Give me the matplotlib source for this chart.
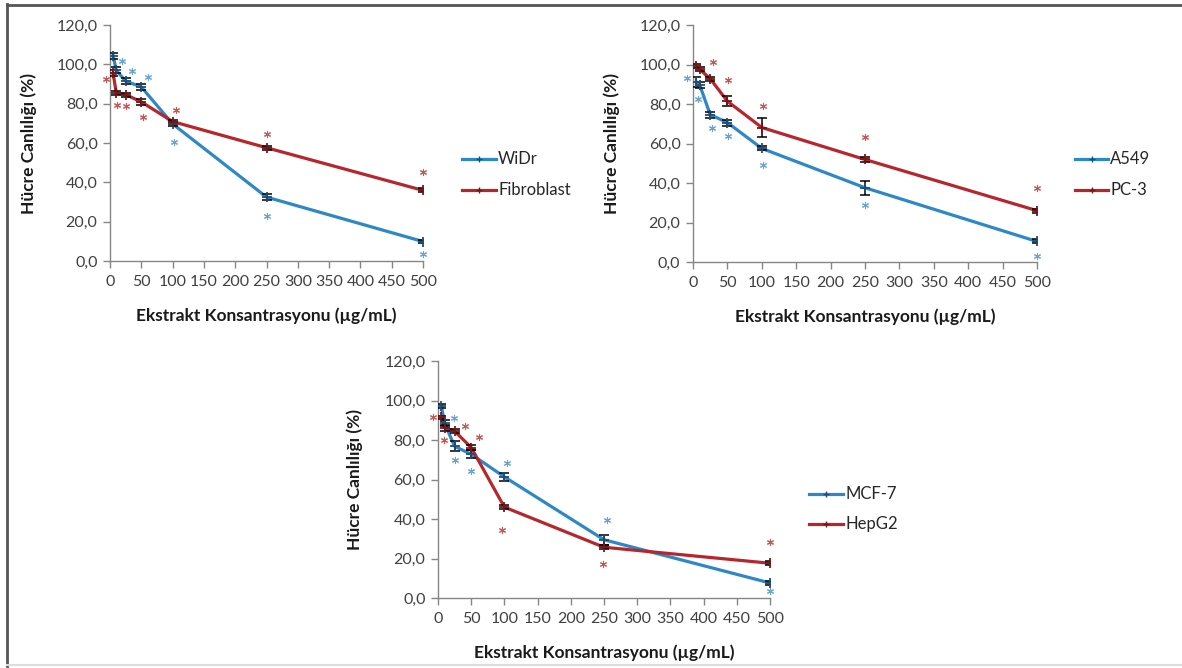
import matplotlib
matplotlib.use("Agg")
import matplotlib.pyplot as plt
from matplotlib.lines import Line2D
from matplotlib.ticker import FuncFormatter

plt.rcParams['font.family'] = ['Lato', 'DejaVu Sans']

# ---------------- data ----------------
conc = [5, 10, 25, 50, 100, 250, 500]

widr = [104.3, 96.9, 91.5, 88.5, 69.7, 32.5, 9.9]
widr_err = [1.5, 1.5, 1.5, 1.5, 1.0, 1.5, 1.0]
fibro = [95.4, 85.5, 84.6, 80.9, 70.9, 57.6, 35.9]
fibro_err = [1.5, 1.0, 1.0, 1.5, 1.0, 1.0, 1.0]

a549 = [91.2, 89.4, 74.6, 70.6, 57.5, 37.6, 10.4]
a549_err = [2.5, 1.5, 1.5, 1.5, 1.0, 3.5, 1.0]
pc3 = [99.2, 97.5, 92.8, 81.4, 68.1, 51.9, 26.0]
pc3_err = [1.0, 1.0, 1.0, 2.5, 5.0, 1.5, 1.0]

mcf7 = [97.3, 88.4, 76.8, 72.8, 61.3, 29.5, 7.6]
mcf7_err = [1.0, 1.5, 2.5, 2.0, 2.0, 2.5, 1.0]
hepg2 = [91.4, 86.3, 84.5, 76.2, 46.0, 25.7, 17.6]
hepg2_err = [1.0, 1.5, 1.0, 1.5, 1.0, 1.0, 1.0]

# significance asterisks (x, y in data units)
widr_sig_x = [19.6, 35.6, 61, 102, 251, 500]
widr_sig_y = [101.7, 96.6, 93.7, 60.3, 23.0, 3.4]
fibro_sig_x = [-7, 11, 26, 52, 105.5, 251, 500]
fibro_sig_y = [92.3, 79.5, 79.0, 73.0, 77.0, 64.4, 45.1]

a549_sig_x = [-8, 7, 27.5, 50.5, 101.6, 250, 500]
a549_sig_y = [93.0, 82.7, 68.0, 63.8, 49.0, 29.0, 3.0]
pc3_sig_x = [28.6, 50.5, 101.6, 250, 500]
pc3_sig_y = [101.3, 92.4, 79.1, 63.5, 37.4]

mcf7_sig_x = [24, 25, 50, 104, 254, 500]
mcf7_sig_y = [90.9, 70.0, 64.2, 68.6, 39.3, 3.7]
hepg2_sig_x = [-7.5, 9, 40, 61.5, 96.5, 249, 500]
hepg2_sig_y = [91.4, 80.0, 87.0, 81.6, 34.5, 17.0, 28.6]

x_ticks = [0, 50, 100, 150, 200, 250, 300, 350, 400, 450, 500]
y_ticks = [0, 20, 40, 60, 80, 100, 120]
xlabel = "Ekstrakt Konsantrasyonu (µg/mL)"
ylabel = "Hücre Canlılığı (%)"

# ---------------- style ----------------
W, H = 1182, 668
BLUE = '#2D88C5'
RED = '#B5272C'
BLUE_M = '#1F4E79'
RED_M = '#7A1518'
BLUE_S = '#6BA3D3'
RED_S = '#C45A57'
AXC = '#868686'
TXT = '#404040'

fig = plt.figure(figsize=(W / 100, H / 100), dpi=100)


def px_axes(x0, x1, y0, y1):
    # x0,x1: pixel of x=0 and x=500; y0: pixel of y=0, y1: pixel of y=120
    return fig.add_axes([x0 / W, 1 - y0 / H, (x1 - x0) / W, (y0 - y1) / H])


panels = [
    dict(box=(110, 423, 261, 25),
         series=[("WiDr", widr, widr_err, BLUE, BLUE_M, BLUE_S, widr_sig_x, widr_sig_y),
                 ("Fibroblast", fibro, fibro_err, RED, RED_M, RED_S, fibro_sig_x, fibro_sig_y)],
         leg=(462, 496, 159, 190), ylx=-0.233),
    dict(box=(693, 1037, 262, 25),
         series=[("A549", a549, a549_err, BLUE, BLUE_M, BLUE_S, a549_sig_x, a549_sig_y),
                 ("PC-3", pc3, pc3_err, RED, RED_M, RED_S, pc3_sig_x, pc3_sig_y)],
         leg=(1075, 1108, 159, 190), ylx=-0.212),
    dict(box=(438, 770, 598, 361),
         series=[("MCF-7", mcf7, mcf7_err, BLUE, BLUE_M, BLUE_S, mcf7_sig_x, mcf7_sig_y),
                 ("HepG2", hepg2, hepg2_err, RED, RED_M, RED_S, hepg2_sig_x, hepg2_sig_y)],
         leg=(809, 843, 494, 524), ylx=-0.226),
]

fmt = FuncFormatter(lambda v, p: f"{v:.1f}".replace('.', ','))

for pan in panels:
    ax = px_axes(*pan['box'])
    for name, vals, err, col, mcol, scol, sx, sy in pan['series']:
        ax.plot(conc, vals, color=col, lw=2.3, zorder=3, solid_joinstyle='round')
        ax.errorbar(conc, vals, yerr=err, fmt='none', ecolor='black',
                    elinewidth=1.1, capsize=3.5, capthick=1.1, zorder=4)
        ax.plot(conc, vals, linestyle='none', marker='+', ms=7, mew=1.3,
                color=mcol, zorder=5)
        ax.scatter(sx, sy, marker=(6, 2, 0), s=20, linewidths=0.8,
                   color=scol, zorder=6, clip_on=False)
    ax.set_xlim(0, 500)
    ax.set_ylim(0, 120)
    ax.set_xticks(x_ticks)
    ax.set_yticks(y_ticks)
    ax.yaxis.set_major_formatter(fmt)
    for s in ('top', 'right'):
        ax.spines[s].set_visible(False)
    for s in ('left', 'bottom'):
        ax.spines[s].set_color(AXC)
        ax.spines[s].set_linewidth(1.0)
    ax.tick_params(axis='both', colors=AXC, labelcolor=TXT, labelsize=11.5,
                   length=5, width=1.0, direction='out')
    ax.tick_params(axis='x', pad=5)
    ax.tick_params(axis='y', pad=4)
    ax.set_xlabel(xlabel, fontsize=12.5, fontweight='bold', color='#1a1a1a')
    ax.set_ylabel(ylabel, fontsize=12.5, fontweight='bold', color='#1a1a1a')
    ax.xaxis.set_label_coords(0.5, -0.195)
    ax.yaxis.set_label_coords(pan['ylx'], 0.5)
    ax.patch.set_alpha(0)

    lx0, lx1, ly_a, ly_b = pan['leg']
    for (name, vals, err, col, mcol, scol, sx, sy), ly in zip(pan['series'], (ly_a, ly_b)):
        fig.add_artist(Line2D([lx0 / W, lx1 / W], [1 - ly / H, 1 - ly / H],
                              color=col, lw=2.3, transform=fig.transFigure))
        fig.add_artist(Line2D([(lx0 + lx1) / 2 / W], [1 - ly / H], marker='+',
                              ms=4, mew=1, color=mcol, linestyle='none',
                              transform=fig.transFigure))
        fig.text((lx1 + 2) / W, 1 - ly / H, name, fontsize=12, color='#262626',
                 va='center', ha='left')

# outer frame
fig.add_artist(Line2D([7 / W, 7 / W], [1 - 4 / H, 1 - 666 / H], color='#555555',
                      lw=2, transform=fig.transFigure))
fig.add_artist(Line2D([7 / W, 1.0], [1 - 5 / H, 1 - 5 / H], color='#555555',
                      lw=2, transform=fig.transFigure))
fig.add_artist(Line2D([7 / W, 1.0], [1 - 665 / H, 1 - 665 / H], color='#DDDDDD',
                      lw=1.5, transform=fig.transFigure))

fig.savefig("out.png", dpi=100)
